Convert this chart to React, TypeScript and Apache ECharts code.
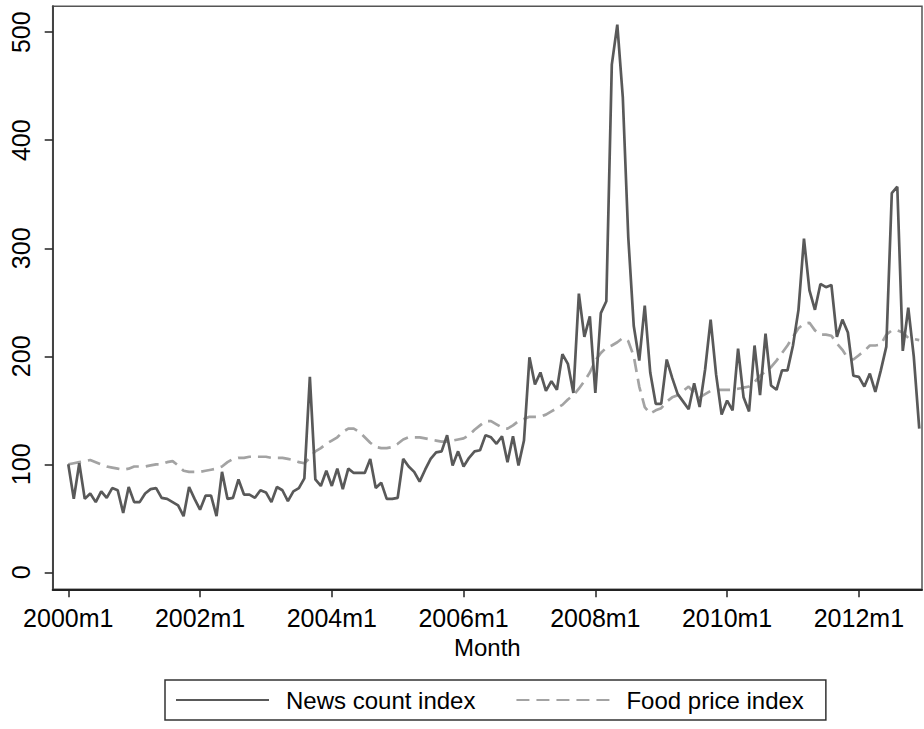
import React, { useEffect, useRef } from "react";
import * as echarts from "echarts";

const newsCount: number[] = [
  100, 68, 101, 68, 73, 65, 75, 69, 78, 76, 55, 79,
  65, 65, 73, 77, 78, 69, 68, 65, 62, 52, 79, 68,
  58, 71, 71, 52, 93, 68, 69, 86, 72, 72, 69, 76,
  74, 65, 79, 76, 66, 75, 78, 87, 181, 86, 80, 94,
  80, 96, 77, 96, 92, 92, 92, 105, 78, 83, 68, 68,
  69, 105, 98, 93, 84, 95, 105, 111, 112, 127, 99, 112,
  98, 106, 112, 113, 127, 125, 119, 126, 102, 126, 99, 122,
  199, 174, 185, 168, 177, 169, 202, 193, 166, 258, 218, 237,
  166, 240, 251, 470, 507, 440, 310, 228, 196, 247, 185, 156,
  156, 197, 180, 165, 158, 151, 175, 153, 188, 234, 183, 146,
  159, 150, 207, 162, 149, 210, 164, 221, 173, 169, 187, 187,
  210, 243, 309, 261, 243, 267, 264, 266, 218, 234, 222, 182,
  181, 172, 184, 167, 187, 209, 351, 357, 205, 245, 200, 133,
];

const foodPrice: number[] = [
  100, 101, 102, 103, 104, 102, 100, 98, 97, 96, 95, 96,
  98, 98, 98, 99, 100, 100, 102, 103, 99, 94, 93, 93,
  93, 94, 95, 96, 98, 102, 105, 106, 106, 107, 107, 107,
  107, 106, 106, 106, 105, 104, 102, 101, 106, 112, 115, 119,
  122, 125, 130, 133, 133, 130, 125, 120, 116, 115, 115, 116,
  119, 123, 125, 125, 125, 124, 123, 122, 121, 121, 122, 123,
  124, 127, 132, 136, 140, 140, 137, 134, 133, 136, 140, 142,
  144, 144, 144, 146, 149, 152, 155, 160, 164, 170, 177, 185,
  196, 203, 208, 210, 213, 217, 214, 200, 172, 153, 147, 150,
  152, 158, 162, 164, 168, 172, 166, 162, 165, 168, 169, 169,
  169, 169, 170, 171, 172, 176, 182, 186, 190, 196, 203, 210,
  218, 226, 230, 231, 224, 220, 220, 219, 212, 206, 198, 197,
  201, 205, 210, 210, 211, 220, 224, 224, 222, 217, 216, 215,
];

// month index (0 = 2000m1) of each x tick, and its label
const xTickMonths: number[] = [0, 24, 48, 72, 96, 120, 144];
const xTickLabels: string[] = ["2000m1", "2002m1", "2004m1", "2006m1", "2008m1", "2010m1", "2012m1"];
const yTicks: number[] = [0, 100, 200, 300, 400, 500];

const FONT = "'Liberation Sans', Arial, sans-serif";

export default function App() {
  const ref = useRef<HTMLDivElement>(null);

  useEffect(() => {
    document.body.style.margin = "0";
    const chart = echarts.init(ref.current!, undefined, { renderer: "svg" });
    const labelFor = (v: number) => {
      const i = xTickMonths.indexOf(Math.round(v));
      return i >= 0 ? xTickLabels[i] : "";
    };
    chart.setOption({
      animation: false,
      backgroundColor: "#ffffff",
      grid: {
        left: 52.7,
        top: 6.3,
        right: 2,
        bottom: 139.7,
        show: true,
        borderColor: "#555555",
        borderWidth: 1.5,
        backgroundColor: "#ffffff",
        outerBoundsMode: "none",
      },
      xAxis: {
        type: "value",
        min: -2.84,
        max: 155.5,
        name: "Month",
        nameLocation: "middle",
        nameGap: 43,
        nameTextStyle: { fontFamily: FONT, fontSize: 24, color: "#000" },
        axisLine: { show: true, onZero: false, lineStyle: { color: "#222", width: 2 } },
        axisTick: {
          show: true,
          length: 8,
          customValues: xTickMonths,
          lineStyle: { color: "#222", width: 1.5 },
        },
        axisLabel: {
          customValues: xTickMonths,
          formatter: labelFor,
          margin: 16,
          fontFamily: FONT,
          fontSize: 25,
          color: "#000",
        },
        splitLine: { show: false },
      },
      yAxis: {
        type: "value",
        min: -15.7,
        max: 524,
        axisLine: { show: true, onZero: false, lineStyle: { color: "#444", width: 2 } },
        axisTick: {
          show: true,
          length: 8,
          customValues: yTicks,
          lineStyle: { color: "#222", width: 1.5 },
        },
        axisLabel: {
          customValues: yTicks,
          rotate: 90,
          margin: 19,
          fontFamily: FONT,
          fontSize: 25,
          color: "#000",
        },
        splitLine: { show: false },
      },
      legend: {
        left: 165,
        top: 680,
        padding: [8, 22, 8, 10],
        borderColor: "#333",
        borderWidth: 1.5,
        itemWidth: 93,
        itemHeight: 14,
        itemGap: 40,
        itemStyle: { opacity: 0 },
        textStyle: { fontFamily: FONT, fontSize: 24, color: "#000", padding: [0, 0, 0, 12] },
        data: [
          { name: "News count index" },
          { name: "Food price index" },
        ],
      },
      series: [
        {
          name: "News count index",
          type: "line",
          symbol: "none",
          data: newsCount.map((v, i) => [i, v]),
          lineStyle: { color: "#595959", width: 2.7 },
          itemStyle: { color: "#595959" },
          z: 3,
        },
        {
          name: "Food price index",
          type: "line",
          symbol: "none",
          data: foodPrice.map((v, i) => [i, v]),
          lineStyle: { color: "#a3a3a3", width: 2.7, type: [13, 7] },
          itemStyle: { color: "#a3a3a3" },
          z: 2,
        },
      ],
    });
    return () => chart.dispose();
  }, []);

  return (
    <div
      ref={ref}
      style={{ position: "absolute", left: 0, top: 0, width: 924, height: 729 }}
    />
  );
}
